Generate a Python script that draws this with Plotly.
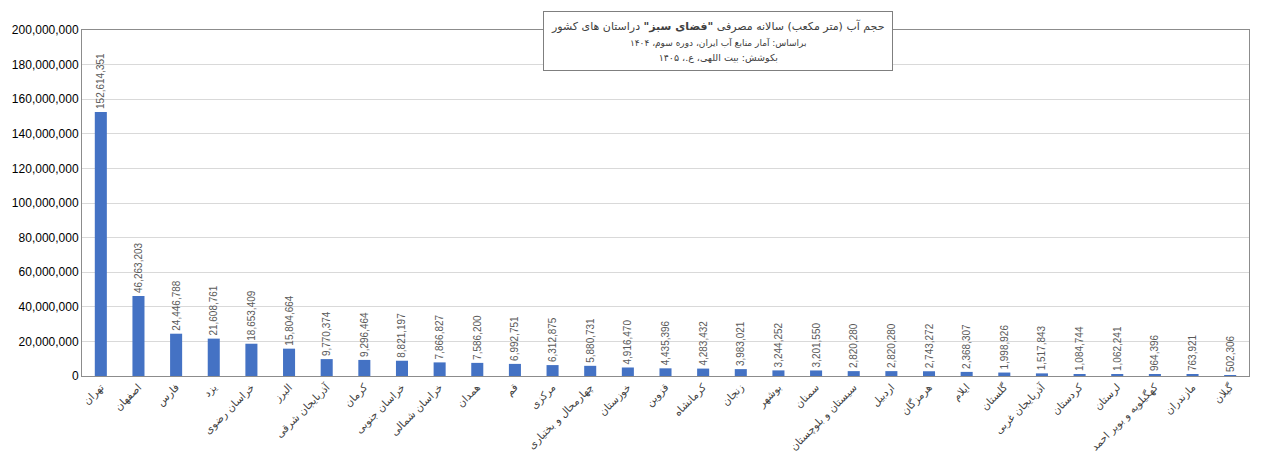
import plotly.graph_objects as go

provinces = [
    "تهران", "اصفهان", "فارس", "یزد", "خراسان رضوی", "البرز", "آذربایجان شرقی",
    "کرمان", "خراسان جنوبی", "خراسان شمالی", "همدان", "قم", "مرکزی",
    "چهارمحال و بختیاری", "خوزستان", "قزوین", "کرمانشاه", "زنجان", "بوشهر",
    "سمنان", "سیستان و بلوچستان", "اردبیل", "هرمزگان", "ایلام", "گلستان",
    "آذربایجان غربی", "کردستان", "لرستان", "کهگیلویه و بویر احمد", "مازندران", "گیلان",
]
volumes = [
    152614351, 46263203, 24446788, 21608761, 18653409, 15804664, 9770374,
    9296464, 8821197, 7866827, 7586200, 6992751, 6312875,
    5880731, 4916470, 4435396, 4283432, 3983021, 3244252,
    3201550, 2820280, 2820280, 2743272, 2368307, 1998926,
    1517843, 1084744, 1062241, 964396, 763921, 502306,
]
y_ticks = list(range(0, 200000001, 20000000))
y_tick_labels = [f"{v:,}" for v in y_ticks]

title_lines = [
    'حجم آب (متر مکعب) سالانه مصرفی <b>"فضای سبز"</b> دراستان های کشور',
    "براساس: آمار منابع آب ایران، دوره سوم، ۱۴۰۴",
    "بکوشش: بیت اللهی، ع.، ۱۴۰۵",
]

fig = go.Figure(
    go.Bar(
        x=provinces,
        y=volumes,
        marker=dict(color="#4472C4", line=dict(width=0)),
        text=[f"{v:,}" for v in volumes],
        textposition="outside",
        textangle=-90,
        constraintext="none",
        cliponaxis=False,
        textfont=dict(family="Liberation Sans, Arial, sans-serif", size=10, color="#595959"),
    )
)

fig.update_layout(
    width=1276,
    height=453,
    margin=dict(l=82, r=27, t=30, b=77, autoexpand=False),
    paper_bgcolor="white",
    plot_bgcolor="white",
    bargap=0.68,
    showlegend=False,
    font=dict(family="Liberation Sans, Arial, sans-serif", color="#404040"),
    annotations=[
        dict(
            text=(
                f'<span style="font-size:11px">{title_lines[0]}</span><br>'
                f'<span style="font-size:9px">{title_lines[1]}</span><br>'
                f'<span style="font-size:9.5px">{title_lines[2]}</span>'
            ),
            xref="paper", yref="paper",
            x=0.545, y=0.967,
            xanchor="center", yanchor="middle",
            showarrow=False,
            align="center",
            bgcolor="white",
            bordercolor="#7f7f7f",
            borderwidth=1,
            borderpad=7,
            font=dict(family="DejaVu Sans, Tahoma, sans-serif", size=12, color="#404040"),
        )
    ],
)

fig.update_xaxes(
    tickangle=-45,
    automargin=False,
    tickfont=dict(family="DejaVu Sans, Tahoma, sans-serif", size=10.5, color="#404040"),
    showline=True, linecolor="#8c8c8c", linewidth=1, mirror=True,
    ticks="", showgrid=False,
)
fig.update_yaxes(
    range=[0, 200000000],
    automargin=False,
    tickmode="array",
    tickvals=y_ticks,
    ticktext=y_tick_labels,
    tickfont=dict(family="Liberation Sans, Arial, sans-serif", size=12, color="#000000"),
    showline=True, linecolor="#8c8c8c", linewidth=1, mirror=True,
    showgrid=True, gridcolor="#d9d9d9", gridwidth=1,
    zeroline=False, ticks="",
)

fig.write_html("out.html")
